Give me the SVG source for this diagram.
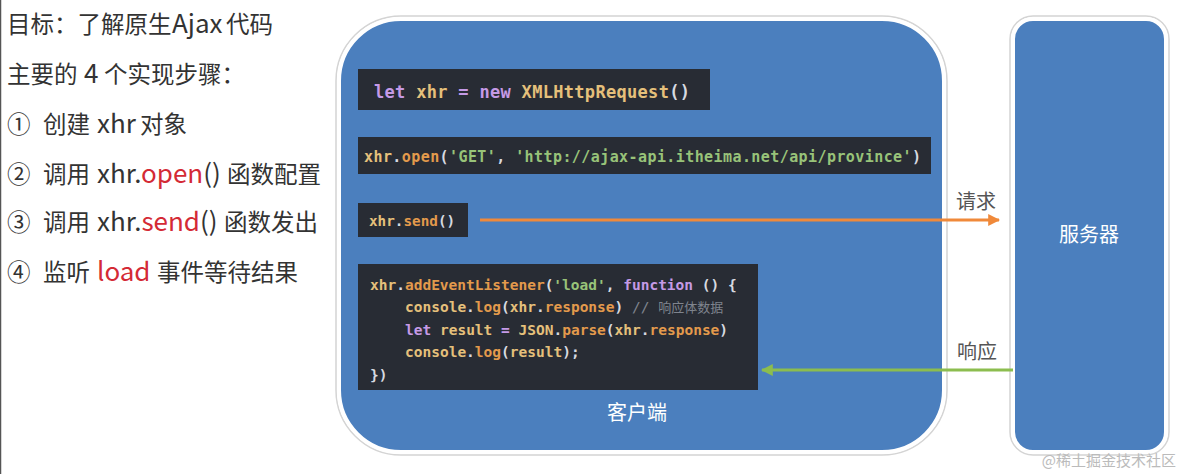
<svg xmlns="http://www.w3.org/2000/svg" width="1186" height="474" viewBox="0 0 1186 474">
<style>
.lt{font-family:"Noto Sans CJK SC","Noto Sans",sans-serif;font-size:23.5px;fill:#333}
.lat{font-size:26px}
.red{fill:#d42a35}
.box{fill:#4b7fbe;stroke:#ffffff;stroke-width:4}
.shadow{fill:none;stroke:#d4d4d4;stroke-width:1.5}
.code{fill:#282c34}
.mono{font-family:"DejaVu Sans Mono","Liberation Mono",monospace;font-weight:bold;fill:#d7dae0}
.y{fill:#e5c07b}.o{fill:#e39a4c}.g{fill:#98c379}.p{fill:#c59ae6}.w{fill:#d7dae0}.c{fill:#7f848e;font-weight:normal}
.wl{font-family:"Noto Sans CJK SC",sans-serif;font-size:20px;fill:#ffffff;text-anchor:middle}
.al{font-family:"Noto Sans CJK SC",sans-serif;font-size:20px;fill:#555}
</style>
<defs>
<marker id="ao" viewBox="0 0 10 10" refX="9" refY="5" markerWidth="4" markerHeight="4" orient="auto"><path d="M0,0 L10,5 L0,10 Z" fill="#f0893a"/></marker>
<marker id="ag" viewBox="0 0 10 10" refX="9" refY="5" markerWidth="4" markerHeight="4" orient="auto"><path d="M0,0 L10,5 L0,10 Z" fill="#8cbd4f"/></marker>
</defs>
<rect width="1186" height="474" fill="#ffffff"/>
<line x1="0.5" y1="0" x2="0.5" y2="474" stroke="#555" stroke-width="1.5"/>

<g id="steps">
<text class="lt" y="33"><tspan x="7">目标：了解原生</tspan><tspan x="172" class="lat">Ajax</tspan><tspan x="226">代码</tspan></text>
<text class="lt" y="83"><tspan x="7">主要的</tspan><tspan x="84" class="lat">4</tspan><tspan x="104">个实现步骤：</tspan></text>
<text class="lt" y="133"><tspan x="7">①</tspan><tspan x="43">创建</tspan><tspan x="97" class="lat">xhr</tspan><tspan x="140">对象</tspan></text>
<text class="lt" y="183"><tspan x="7">②</tspan><tspan x="43">调用</tspan><tspan x="97" class="lat">xhr.<tspan class="red">open</tspan>()</tspan><tspan x="227">函数配置</tspan></text>
<text class="lt" y="231"><tspan x="7">③</tspan><tspan x="43">调用</tspan><tspan x="97" class="lat">xhr.<tspan class="red">send</tspan>()</tspan><tspan x="224">函数发出</tspan></text>
<text class="lt" y="281"><tspan x="7">④</tspan><tspan x="43">监听</tspan><tspan x="97" class="lat red">load</tspan><tspan x="157">事件等待结果</tspan></text>
</g>

<g id="client">
<rect class="shadow" x="336" y="16" width="611" height="439" rx="65"/>
<rect class="box" x="339" y="19" width="605" height="433" rx="62"/>
<text class="wl" x="637" y="420">客户端</text>
</g>

<g id="server">
<rect class="shadow" x="1010" y="16" width="159" height="439" rx="23"/>
<rect class="box" x="1013" y="19" width="153" height="433" rx="20"/>
<text class="wl" x="1089" y="242">服务器</text>
</g>

<g id="code1">
<rect class="code" x="358" y="69" width="352" height="41"/>
<text class="mono" x="374" y="98" font-size="17" textLength="316"><tspan class="p">let</tspan> <tspan class="y">xhr</tspan> <tspan class="p">=</tspan> <tspan class="p">new</tspan> <tspan class="y">XMLHttpRequest</tspan><tspan class="w">()</tspan></text>
</g>

<g id="code2">
<rect class="code" x="358" y="137" width="573" height="37"/>
<text class="mono" x="364" y="162" font-size="15" textLength="557"><tspan class="y">xhr</tspan><tspan class="w">.</tspan><tspan class="o">open</tspan><tspan class="w">(</tspan><tspan class="g">'GET'</tspan><tspan class="w">, </tspan><tspan class="g">'http://ajax-api.itheima.net/api/province'</tspan><tspan class="w">)</tspan></text>
</g>

<g id="code3">
<rect class="code" x="358" y="203" width="110" height="34"/>
<text class="mono" x="369" y="226" font-size="14.3"><tspan class="y">xhr</tspan><tspan class="w">.</tspan><tspan class="o">send</tspan><tspan class="w">()</tspan></text>
</g>

<g id="code4">
<rect class="code" x="358" y="264" width="400" height="126"/>
<text class="mono" font-size="14.5">
<tspan x="370" y="290"><tspan class="y">xhr</tspan><tspan class="w">.</tspan><tspan class="o">addEventListener</tspan><tspan class="w">(</tspan><tspan class="g">'load'</tspan><tspan class="w">, </tspan><tspan class="p">function</tspan><tspan class="w"> () {</tspan></tspan>
<tspan x="405" y="312"><tspan class="y">console</tspan><tspan class="w">.</tspan><tspan class="o">log</tspan><tspan class="w">(</tspan><tspan class="y">xhr</tspan><tspan class="w">.</tspan><tspan class="o">response</tspan><tspan class="w">) </tspan><tspan class="c">// </tspan><tspan class="c" font-family="'Noto Sans CJK SC',serif" font-size="13">响应体数据</tspan></tspan>
<tspan x="405" y="335"><tspan class="p">let</tspan> <tspan class="y">result</tspan> <tspan class="p">=</tspan> <tspan class="y">JSON</tspan><tspan class="w">.</tspan><tspan class="o">parse</tspan><tspan class="w">(</tspan><tspan class="y">xhr</tspan><tspan class="w">.</tspan><tspan class="o">response</tspan><tspan class="w">)</tspan></tspan>
<tspan x="405" y="357"><tspan class="y">console</tspan><tspan class="w">.</tspan><tspan class="o">log</tspan><tspan class="w">(</tspan><tspan class="y">result</tspan><tspan class="w">);</tspan></tspan>
<tspan x="370" y="380" class="w">})</tspan>
</text>
</g>

<g id="connectors">
<line x1="480" y1="220" x2="999" y2="220" stroke="#f0893a" stroke-width="3" marker-end="url(#ao)"/>
<text class="al" x="976" y="209" text-anchor="middle">请求</text>
<line x1="1013" y1="370" x2="762" y2="370" stroke="#8cbd4f" stroke-width="3" marker-end="url(#ag)"/>
<text class="al" x="977" y="359" text-anchor="middle">响应</text>
</g>

<text x="1176" y="466" text-anchor="end" font-family="'Noto Sans CJK SC',sans-serif" font-size="15" fill="#bbbbbb">@稀土掘金技术社区</text>
</svg>
